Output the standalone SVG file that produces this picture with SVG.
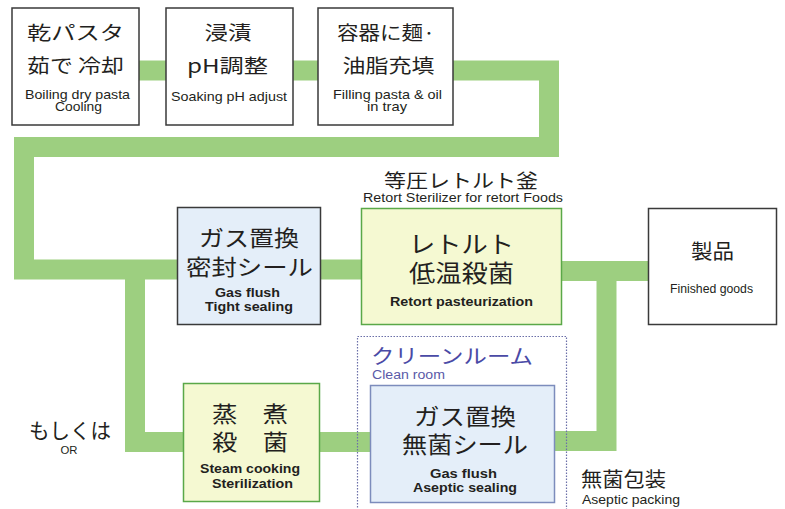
<svg xmlns="http://www.w3.org/2000/svg" width="785" height="509" viewBox="0 0 785 509">
<style>
.ln{fill:none;stroke:#9dcf80;stroke-width:20;stroke-linejoin:miter;stroke-linecap:butt}
.bw{fill:#fff;stroke:#3a3a3a;stroke-width:1.5}
.bb{fill:#e4eef9;stroke:#3a3a3a;stroke-width:1.5}
.by{fill:#f5f9d2;stroke:#5aa848;stroke-width:1.5}
.ba{fill:#e4eef9;stroke:#7c8cbc;stroke-width:1.5}
.j{font-family:"Noto Sans CJK JP","Noto Sans",sans-serif;fill:#231f20;text-anchor:middle}
.e{font-family:"Liberation Sans",Arial,sans-serif;fill:#231f20;text-anchor:middle}
.eb{font-family:"Liberation Sans",Arial,sans-serif;fill:#231f20;text-anchor:middle;font-weight:bold}
</style>
<rect width="785" height="509" fill="#fff"/>
<g id="connectors">
<polyline class="ln" points="139,70.5 166,70.5"/>
<polyline class="ln" points="293,70.5 318,70.5"/>
<polyline class="ln" points="453,70.5 549,70.5 549,147 24,147 24,269.5 178,269.5"/>
<polyline class="ln" points="135,269.5 135,442 183,442"/>
<polyline class="ln" points="321,269.5 361,269.5"/>
<polyline class="ln" points="562,271 648,271"/>
<polyline class="ln" points="606.5,271 606.5,441 555,441"/>
<polyline class="ln" points="320,442 370,442"/>
</g>
<g id="cleanroom">
<rect x="357.5" y="336.5" width="209" height="190" fill="none" stroke="#6b6fa8" stroke-width="1.2" stroke-dasharray="1.5 1.5"/>
<text x="371" y="364" font-family="Noto Sans CJK JP,sans-serif" font-size="20" fill="#4a4aa6" textLength="162" lengthAdjust="spacingAndGlyphs">クリーンルーム</text>
<text x="372" y="379" font-family="Liberation Sans,Arial,sans-serif" font-size="12.5" fill="#5a5aa8" textLength="73" lengthAdjust="spacingAndGlyphs">Clean room</text>
</g>
<g id="n1">
<rect class="bw" x="12" y="8" width="127" height="117"/>
<text class="j" x="75.5" y="40" font-size="19" textLength="97" lengthAdjust="spacingAndGlyphs">乾パスタ</text>
<text class="j" x="75.5" y="73" font-size="19" textLength="97" lengthAdjust="spacingAndGlyphs">茹で 冷却</text>
<text class="e" x="77.5" y="98.5" font-size="13" textLength="105" lengthAdjust="spacingAndGlyphs">Boiling dry pasta</text>
<text class="e" x="78.5" y="111" font-size="13" textLength="47" lengthAdjust="spacingAndGlyphs">Cooling</text>
</g>
<g id="n2">
<rect class="bw" x="166" y="8" width="127" height="117"/>
<text class="j" x="228" y="40" font-size="19" textLength="47" lengthAdjust="spacingAndGlyphs">浸漬</text>
<text class="j" x="227.5" y="73" font-size="19" textLength="81" lengthAdjust="spacingAndGlyphs">pH調整</text>
<text class="e" x="229" y="101" font-size="13" textLength="116" lengthAdjust="spacingAndGlyphs">Soaking pH adjust</text>
</g>
<g id="n3">
<rect class="bw" x="318" y="8" width="135" height="117"/>
<text class="j" x="386" y="40" font-size="19" textLength="98" lengthAdjust="spacingAndGlyphs">容器に麺·</text>
<text class="j" x="388.5" y="73" font-size="19" textLength="92" lengthAdjust="spacingAndGlyphs">油脂充填</text>
<text class="e" x="387.5" y="98.5" font-size="13" textLength="109" lengthAdjust="spacingAndGlyphs">Filling pasta &amp; oil</text>
<text class="e" x="387" y="111" font-size="13" textLength="40" lengthAdjust="spacingAndGlyphs">in tray</text>
</g>
<g id="retortlabel">
<text class="j" x="461" y="188" font-size="19" textLength="154" lengthAdjust="spacingAndGlyphs">等圧レトルト釜</text>
<text class="e" x="463" y="202" font-size="12.5" textLength="200" lengthAdjust="spacingAndGlyphs">Retort Sterilizer for retort Foods</text>
</g>
<g id="n4">
<rect class="bb" x="177.5" y="207.5" width="143" height="117"/>
<text class="j" x="249" y="246" font-size="22" textLength="100" lengthAdjust="spacingAndGlyphs">ガス置換</text>
<text class="j" x="249.5" y="275" font-size="22" textLength="127" lengthAdjust="spacingAndGlyphs">密封シール</text>
<text class="eb" x="247.5" y="297" font-size="13" textLength="65" lengthAdjust="spacingAndGlyphs">Gas flush</text>
<text class="eb" x="249" y="311" font-size="13" textLength="88" lengthAdjust="spacingAndGlyphs">Tight sealing</text>
</g>
<g id="n5">
<rect class="by" x="361.5" y="208.5" width="200" height="116"/>
<text class="j" x="461.5" y="253" font-size="24" textLength="105" lengthAdjust="spacingAndGlyphs">レトルト</text>
<text class="j" x="461.5" y="282" font-size="24" textLength="105" lengthAdjust="spacingAndGlyphs">低温殺菌</text>
<text class="eb" x="461.5" y="306" font-size="13" textLength="143" lengthAdjust="spacingAndGlyphs">Retort pasteurization</text>
</g>
<g id="n6">
<rect class="bw" x="648.5" y="208.5" width="128" height="116"/>
<text class="j" x="712.5" y="259" font-size="20" textLength="43" lengthAdjust="spacingAndGlyphs">製品</text>
<text class="e" x="711.5" y="293" font-size="13" textLength="83" lengthAdjust="spacingAndGlyphs">Finished goods</text>
</g>
<g id="or">
<text class="j" x="70" y="438" font-size="21" textLength="82" lengthAdjust="spacingAndGlyphs">もしくは</text>
<text class="e" x="69" y="454" font-size="10.5" textLength="17" lengthAdjust="spacingAndGlyphs">OR</text>
</g>
<g id="n7">
<rect class="by" x="183.5" y="383.5" width="136" height="118"/>
<text class="j" x="250" y="422" font-size="22" textLength="76" lengthAdjust="spacingAndGlyphs">蒸　煮</text>
<text class="j" x="250" y="450" font-size="22" textLength="76" lengthAdjust="spacingAndGlyphs">殺　菌</text>
<text class="eb" x="250" y="473" font-size="13" textLength="100" lengthAdjust="spacingAndGlyphs">Steam cooking</text>
<text class="eb" x="252.5" y="488" font-size="13" textLength="81" lengthAdjust="spacingAndGlyphs">Sterilization</text>
</g>
<g id="n8">
<rect class="ba" x="370.5" y="385.5" width="184" height="117"/>
<text class="j" x="465" y="425" font-size="23" textLength="102" lengthAdjust="spacingAndGlyphs">ガス置換</text>
<text class="j" x="465" y="453" font-size="23" textLength="126" lengthAdjust="spacingAndGlyphs">無菌シール</text>
<text class="eb" x="463.5" y="478" font-size="13" textLength="67" lengthAdjust="spacingAndGlyphs">Gas flush</text>
<text class="eb" x="465" y="492" font-size="13" textLength="104" lengthAdjust="spacingAndGlyphs">Aseptic sealing</text>
</g>
<g id="aseptic">
<text x="581" y="487" font-family="Noto Sans CJK JP,sans-serif" font-size="20" fill="#231f20" textLength="85" lengthAdjust="spacingAndGlyphs">無菌包装</text>
<text x="582" y="504" font-family="Liberation Sans,Arial,sans-serif" font-size="13" fill="#231f20" textLength="98" lengthAdjust="spacingAndGlyphs">Aseptic packing</text>
</g>
</svg>
